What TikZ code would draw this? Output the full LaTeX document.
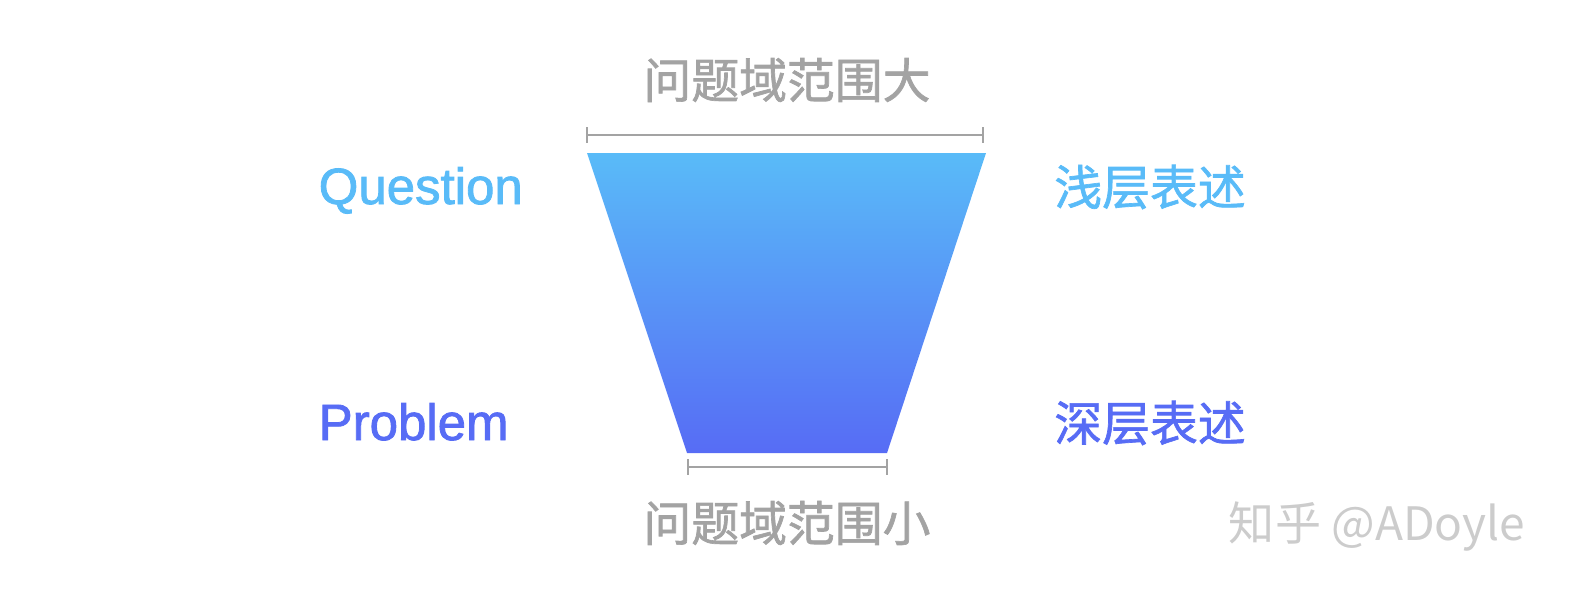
\documentclass[tikz,border=0pt]{standalone}
\usepackage{fontspec}
\setmainfont{Liberation Sans}[FakeBold=1.6,UprightFeatures={FakeBold=1.6}]
\newfontfamily\cjk{Noto Sans CJK SC}[FakeBold=1.4,UprightFeatures={FakeBold=1.4}]
\newfontfamily\cjkmark{Noto Sans CJK SC}
\usepackage{tikz}
\usetikzlibrary{positioning}
\definecolor{qblue}{RGB}{89,187,248}
\definecolor{pblue}{RGB}{87,108,245}
\definecolor{dimgrey}{RGB}{163,163,163}
\definecolor{markgrey}{RGB}{204,204,204}
\tikzset{
  dimline/.style={draw=dimgrey,line width=0.6pt},
  latinlabel/.style={inner sep=0pt,anchor=base west,font=\fontsize{14.5}{17}\selectfont},
  cjklabel/.style={inner sep=0pt,font=\cjk\fontsize{13.6}{16}\selectfont},
}

\begin{document}
\begin{tikzpicture}[x=0.01cm,y=-0.01cm]
\useasboundingbox (0,0) rectangle (1570,600);

\coordinate (tl) at (587,153);
\coordinate (tr) at (986,153);
\coordinate (br) at (887,453);
\coordinate (bl) at (687,453);
\shade[top color=qblue,bottom color=pblue] (tl) -- (tr) -- (br) -- (bl) -- cycle;

% width markers
\path[dimline] (587,135) -- (983,135);
\path[dimline] (587,127) -- (587,143);
\path[dimline] (983,127) -- (983,143);
\path[dimline] (688,467) -- (887,467);
\path[dimline] (688,459) -- (688,475);
\path[dimline] (887,459) -- (887,475);

\draw (787,80) node[cjklabel,text=dimgrey] (wide) {问题域范围大};
\draw (787,523) node[cjklabel,text=dimgrey] (narrow) {问题域范围小};

\draw (318,204) node[latinlabel,text=qblue] (question) {Question};
\draw (318,440) node[latinlabel,text=pblue] (problem) {Problem};

\draw (1150,187) node[cjklabel,text=qblue] (shallow) {浅层表述};
\draw (1150,423) node[cjklabel,text=pblue] (deep) {深层表述};

\draw (1377,527) node[inner sep=0pt,text=markgrey,font=\cjkmark\fontsize{13.1}{16}\selectfont] (mark) {知乎 @ADoyle};

\end{tikzpicture}
\end{document}
